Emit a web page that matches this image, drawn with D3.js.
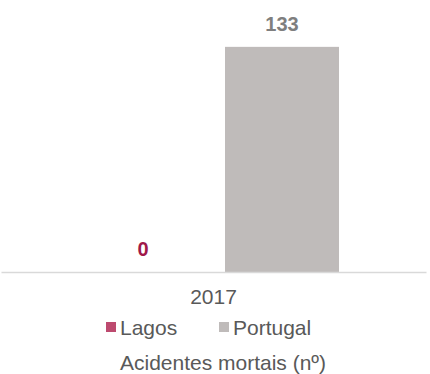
<!DOCTYPE html>
<html>
<head>
<meta charset="utf-8">
<script src="https://cdn.jsdelivr.net/npm/d3@7/dist/d3.min.js"></script>
<style>
  html, body { margin: 0; padding: 0; background: #fff; }
  svg { display: block; font-family: "Liberation Sans", Arial, sans-serif; }
</style>
</head>
<body>
<svg id="chart" width="430" height="374"></svg>
<script>
const categories = ["2017"];
const seriesNames = ["Lagos", "Portugal"];
const lagosValues = [0];
const portugalValues = [133];
const title = "Acidentes mortais (nº)";

const barColors = { "Lagos": "#bd4a6f", "Portugal": "#bfbbba" };
const labelColors = { "Lagos": "#a0194a", "Portugal": "#7f7f7f" };

const svg = d3.select("#chart");
const axisY = 272;

const x0 = d3.scaleBand().domain(categories).range([86, 339]).paddingInner(0).paddingOuter(0);
const x1 = d3.scaleBand().domain(seriesNames).range([0, x0.bandwidth()]).paddingInner(0.18).paddingOuter(0);
const y = d3.scaleLinear().domain([0, 140]).range([axisY, 35]);

const data = categories.map((c, i) => ({
  cat: c,
  values: [
    { name: "Lagos", value: lagosValues[i] },
    { name: "Portugal", value: portugalValues[i] }
  ]
}));

const groups = svg.selectAll("g.grp").data(data).enter().append("g")
  .attr("class", "grp")
  .attr("transform", d => `translate(${x0(d.cat)},0)`);

groups.selectAll("rect").data(d => d.values).enter().append("rect")
  .attr("x", d => x1(d.name))
  .attr("y", d => y(d.value))
  .attr("width", x1.bandwidth())
  .attr("height", d => y(0) - y(d.value))
  .attr("fill", d => barColors[d.name]);

groups.selectAll("text.lbl").data(d => d.values).enter().append("text")
  .attr("class", "lbl")
  .attr("x", d => x1(d.name) + x1.bandwidth() / 2)
  .attr("y", d => y(d.value) - 16)
  .attr("text-anchor", "middle")
  .attr("font-size", "20px")
  .attr("font-weight", "bold")
  .attr("fill", d => labelColors[d.name])
  .text(d => d3.format("d")(d.value));

// axis line
const xAxisScale = d3.scaleBand().domain(categories).range([1, 426]);
const xAxis = d3.axisBottom(xAxisScale).tickSize(0).tickPadding(0);
const axG = svg.append("g").attr("transform", `translate(0,${axisY})`).call(xAxis);
axG.select(".domain").attr("stroke", "#d9d9d9").attr("stroke-width", 1.5);
axG.selectAll(".tick text")
  .attr("font-size", "21px")
  .attr("font-family", "Liberation Sans, Arial, sans-serif")
  .attr("fill", "#595959")
  .attr("dy", null)
  .attr("y", 32);

// legend
const legendItems = [
  { name: "Lagos", sx: 106, tx: 120 },
  { name: "Portugal", sx: 219, tx: 233 }
];
const lg = svg.append("g");
lg.selectAll("rect").data(legendItems).enter().append("rect")
  .attr("x", d => d.sx).attr("y", 322).attr("width", 10).attr("height", 10)
  .attr("fill", d => barColors[d.name]);
lg.selectAll("text").data(legendItems).enter().append("text")
  .attr("x", d => d.tx).attr("y", 335)
  .attr("font-size", "21px").attr("fill", "#595959")
  .text(d => d.name);

svg.append("text")
  .attr("x", 223).attr("y", 370)
  .attr("text-anchor", "middle")
  .attr("font-size", "21px").attr("fill", "#595959")
  .text(title);
</script>
</body>
</html>
